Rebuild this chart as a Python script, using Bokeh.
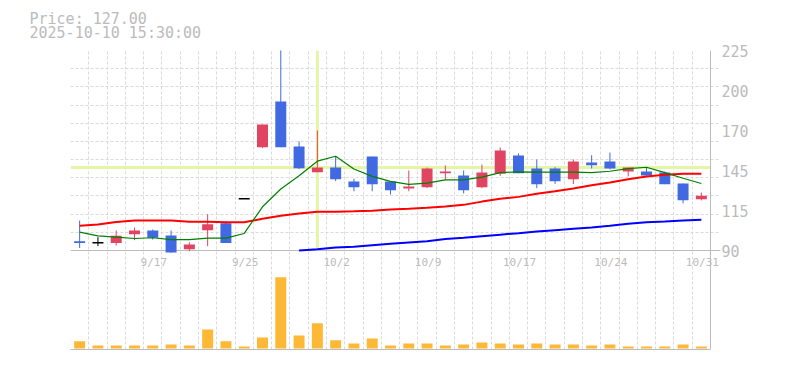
from bokeh.plotting import figure
from bokeh.models import Range1d, FixedTicker, Grid, Span, Label, Title
from bokeh.embed import file_html
from bokeh.resources import INLINE

# ---------------- data ----------------
dates = ["9/10", "9/11", "9/12", "9/16", "9/17", "9/18", "9/19", "9/22", "9/24", "9/25",
         "9/26", "9/29", "9/30", "10/1", "10/2", "10/3", "10/6", "10/7", "10/8", "10/9",
         "10/10", "10/14", "10/15", "10/16", "10/17", "10/20", "10/21", "10/22", "10/23", "10/24",
         "10/27", "10/28", "10/29", "10/30", "10/31"]
opens = [96.3, 95.2, 95.0, 101.0, 103.5, 100.1, 90.9, 103.7, 108.4, 125.0,
         159.7, 190.6, 160.2, 142.9, 146.0, 136.6, 153.4, 136.6, 131.8, 132.7,
         142.2, 140.6, 132.7, 141.8, 154.1, 145.3, 145.3, 138.1, 149.4, 150.1,
         143.3, 143.3, 142.6, 135.2, 124.6]
highs = [110.2, 99.0, 103.5, 105.5, 104.2, 103.5, 95.6, 114.5, 109.8, 125.0,
         175.0, 230.0, 163.6, 171.0, 153.7, 138.4, 153.4, 136.6, 144.0, 146.0,
         147.4, 144.0, 148.0, 159.5, 155.5, 151.4, 146.2, 151.4, 154.3, 156.1,
         146.0, 146.2, 143.3, 135.2, 129.1]
lows = [91.7, 93.0, 93.4, 97.0, 97.4, 88.5, 89.5, 92.9, 95.0, 125.0,
        159.1, 159.7, 144.9, 142.9, 136.8, 130.0, 130.0, 127.8, 130.0, 132.1,
        137.7, 128.5, 132.1, 140.4, 142.2, 132.1, 135.0, 134.8, 145.3, 144.7,
        140.0, 140.6, 134.8, 121.9, 123.8]
closes = [95.1, 95.2, 99.9, 103.5, 98.6, 88.6, 94.1, 107.8, 95.0, 125.0,
          175.0, 159.7, 145.6, 146.0, 138.1, 132.7, 134.8, 130.7, 133.2, 145.3,
          143.3, 130.7, 142.6, 157.5, 142.2, 134.8, 136.8, 150.1, 147.6, 145.3,
          146.0, 140.6, 134.8, 124.0, 127.0]
volumes = [73, 30, 30, 30, 30, 40, 30, 190, 73, 20,
           110, 713, 130, 253, 83, 50, 100, 30, 50, 50,
           30, 40, 60, 50, 40, 50, 40, 40, 30, 40,
           20, 20, 20, 40, 20]
ma_short = [102.4, 99.9, 99.0, 98.1, 98.6, 97.4, 97.4, 98.3, 98.3, 101.5,
            119.5, 131.5, 140.5, 150.3, 153.6, 145.0, 140.0, 136.7, 134.6, 135.5,
            137.7, 137.7, 139.5, 142.6, 143.1, 142.9, 142.9, 142.9, 142.6, 143.5,
            145.3, 146.2, 142.6, 138.8, 135.2]
ma_mid = [106.7, 107.6, 109.2, 110.2, 110.2, 110.2, 109.4, 109.4, 109.0, 109.0,
          111.4, 113.4, 115.0, 116.2, 116.2, 116.5, 116.9, 117.6, 118.1, 118.8,
          119.7, 120.8, 123.0, 124.9, 126.2, 128.3, 130.0, 131.8, 134.1, 135.9,
          138.1, 140.0, 141.1, 141.8, 141.8]
nan = float("nan")
ma_long = [nan] * 12 + [90.0, 90.9, 92.0, 92.5, 93.6, 94.5, 95.4, 96.3,
                        97.7, 98.6, 99.7, 100.7, 101.7, 102.8, 103.7, 104.6, 105.5, 106.7,
                        108.0, 109.1, 109.6, 110.2, 110.7]
x_tick_labels = ["9/17", "9/25", "10/2", "10/9", "10/17", "10/24", "10/31"]
y_ticks = [90, 117, 144, 171, 198, 225]
y_tick_labels = ["90", "115", "145", "170", "200", "225"]
cursor_date = "2025-10-10 15:30:00"
cursor_index = 13

# ---------------- styling ----------------
UP = "#e04460"
DOWN = "#4169e1"
FLAT = "#000000"
VOL = "#fdb836"
GRID = "#dadada"
AXIS = "#bbbbbb"
TEXT = "#bbbbbb"
CROSS = "#e4f5a8"
FONT = "DejaVu Sans Mono"

W, H = 785, 370
TOP, BOTTOM, LEFT, RIGHT = 50, 21, 70, 65   # frame reaches 10px past the chart border
EXTRA = 10                                  # px between chart border and frame edge
frame_w = W - LEFT - RIGHT
frame_h = H - TOP - BOTTOM
price_px = 200
p_lo, p_hi = y_ticks[0], y_ticks[-1]
units_per_px = (p_hi - p_lo) / price_px
price_bottom = p_lo - (frame_h - price_px) * units_per_px

n = len(dates)
idx = list(range(n))
slot_px = (frame_w - EXTRA) / n
x_lo, x_hi = -0.5, n - 0.5

p = figure(width=W, height=H, output_backend="svg", toolbar_location=None,
           x_range=Range1d(x_lo, x_hi + EXTRA / slot_px), y_range=Range1d(price_bottom, p_hi),
           y_axis_location="right",
           min_border_left=LEFT, min_border_right=RIGHT, min_border_top=TOP,
           min_border_bottom=BOTTOM, outline_line_color=None,
           background_fill_color="white", border_fill_color="white")
p.extra_y_ranges = {"vol": Range1d(-10, -10 + 10 * frame_h)}

p.xgrid.visible = False
p.ygrid.visible = False
p.add_layout(Grid(dimension=0, ticker=FixedTicker(ticks=[i - 0.5 for i in range(n)]),
                  grid_line_color=GRID, grid_line_dash="3 2", grid_line_width=1))
p.add_layout(Grid(dimension=1, bounds=(x_lo, x_hi),
                  ticker=FixedTicker(ticks=[p_lo + k * (p_hi - p_lo) / 11 for k in range(1, 12)]),
                  grid_line_color=GRID, grid_line_dash="3 2", grid_line_width=1))
# solid base line of the price pane
p.add_layout(Grid(dimension=1, bounds=(x_lo, x_hi), ticker=FixedTicker(ticks=[p_lo]),
                  grid_line_color=AXIS, grid_line_width=1))
# right border of the chart
p.add_layout(Span(location=x_hi, dimension="height", line_color=AXIS, line_width=1))

# bottom axis: only a border line
xa = p.xaxis[0]
xa.ticker = FixedTicker(ticks=[])
xa.bounds = (x_lo, x_hi)
xa.axis_line_color = AXIS
xa.major_tick_line_color = None
xa.minor_tick_line_color = None
xa.major_label_text_font_size = "0px"

ya = p.yaxis[0]
ya.ticker = FixedTicker(ticks=y_ticks)
ya.major_label_overrides = {t: l for t, l in zip(y_ticks, y_tick_labels)}
ya.axis_line_color = None
ya.major_tick_line_color = None
ya.minor_tick_line_color = None
ya.major_tick_out = 0
ya.major_tick_in = 0
ya.major_label_standoff = 1
ya.major_label_text_font = FONT
ya.major_label_text_font_size = "15px"
ya.major_label_text_color = TEXT

# crosshair
cy = closes[cursor_index]
p.segment(x0=[x_lo], y0=[cy], x1=[x_hi], y1=[cy], line_color=CROSS, line_width=3)
p.segment(x0=[cursor_index], y0=[p_lo], x1=[cursor_index], y1=[p_hi], line_color=CROSS, line_width=3)

# volume
p.vbar(x=idx, top=volumes, bottom=0, width=0.6, y_range_name="vol",
       fill_color=VOL, line_color=None)

# candles
colors = [UP if c > o else (DOWN if c < o else FLAT) for o, c in zip(opens, closes)]
p.segment(x0=idx, y0=lows, x1=idx, y1=highs, line_color=colors, line_width=1)
body_i = [i for i in idx if opens[i] != closes[i]]
p.vbar(x=body_i, top=[max(opens[i], closes[i]) for i in body_i],
       bottom=[min(opens[i], closes[i]) for i in body_i], width=0.6,
       fill_color=[colors[i] for i in body_i], line_color=None)
flat_i = [i for i in idx if opens[i] == closes[i]]
p.segment(x0=[i - 0.3 for i in flat_i], y0=[closes[i] for i in flat_i],
          x1=[i + 0.3 for i in flat_i], y1=[closes[i] for i in flat_i],
          line_color=FLAT, line_width=1.5)

# moving averages
p.line(idx, ma_long, line_color="#0000ff", line_width=2)
p.line(idx, ma_mid, line_color="#ff0000", line_width=2)
p.line(idx, ma_short, line_color="#008000", line_width=1.2)

# x tick labels
for lab in x_tick_labels:
    p.add_layout(Label(x=dates.index(lab), y=p_lo, text=lab, y_offset=-12, x_offset=1,
                       text_align="center", text_baseline="middle",
                       text_font=FONT, text_font_size="11px", text_color=TEXT))

# header: two title lines above the frame
p.title.text = f"Price: {closes[-1]:.2f}"
p.title.align = "left"
p.title.offset = 29 - LEFT
p.title.standoff = -28
p.title.text_font = FONT
p.title.text_font_size = "15px"
p.title.text_font_style = "normal"
p.title.text_color = TEXT
p.add_layout(Title(text=cursor_date, align="left", offset=29 - LEFT, standoff=17,
                   text_font=FONT, text_font_size="15px", text_font_style="normal",
                   text_color=TEXT), "above")

open("out.html", "w").write(file_html(p, INLINE))
